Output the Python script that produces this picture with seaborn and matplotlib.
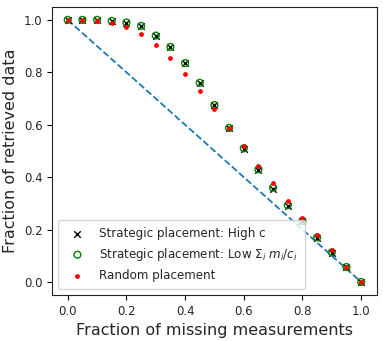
import numpy as np
import pandas as pd
import matplotlib
matplotlib.use("Agg")
import matplotlib.pyplot as plt
import seaborn as sns

# fraction of missing measurements
missing = [0.0, 0.05, 0.1, 0.15, 0.2, 0.25, 0.3, 0.35, 0.4, 0.45, 0.5,
           0.55, 0.6, 0.65, 0.7, 0.75, 0.8, 0.85, 0.9, 0.95, 1.0]

high_c = [1.0, 1.0, 1.0, 0.996, 0.99, 0.975, 0.94, 0.897, 0.835, 0.76, 0.674,
          0.588, 0.508, 0.427, 0.355, 0.29, 0.232, 0.168, 0.112, 0.056, 0.0]
low_mc = [1.0, 1.0, 1.0, 0.996, 0.99, 0.977, 0.94, 0.897, 0.835, 0.76, 0.675,
          0.588, 0.51, 0.43, 0.36, 0.293, 0.233, 0.17, 0.113, 0.057, 0.0]
random_pl = [1.0, 1.0, 0.997, 0.99, 0.972, 0.945, 0.903, 0.854, 0.793, 0.729, 0.659,
             0.588, 0.519, 0.444, 0.379, 0.31, 0.245, 0.18, 0.121, 0.058, 0.0]

diag = pd.DataFrame({"x": [0.0, 1.0], "y": [1.0, 0.0]})

sns.set_style("ticks")
plt.rcParams['font.family'] = ['DejaVu Sans']

fig = plt.figure(figsize=(3.83, 3.41), dpi=100)
ax = fig.add_axes([0.1366, 0.1349, 0.8469, 0.8437])

sns.lineplot(ax=ax, data=diag, x="x", y="y", linestyle="--", color="#1f77b4",
             linewidth=1.3, legend=False)
sns.scatterplot(ax=ax, x=missing, y=high_c, marker="x", color="black", s=22,
                linewidth=1, label="Strategic placement: High c", zorder=3)
sns.scatterplot(ax=ax, x=missing, y=low_mc, marker="o", fc="none", ec="green", s=24,
                linewidth=1, label=r"Strategic placement: Low $\Sigma_i$ $m_i/c_i$", zorder=4)
sns.scatterplot(ax=ax, x=missing, y=random_pl, marker="o", color="red", s=12,
                linewidth=0, label="Random placement", zorder=5)

ax.set_xlim(-0.0525, 1.053)
ax.set_ylim(-0.0496, 1.048)
ax.set_xticks([0.0, 0.2, 0.4, 0.6, 0.8, 1.0])
ax.set_yticks([0.0, 0.2, 0.4, 0.6, 0.8, 1.0])
ax.tick_params(labelsize=8.5, length=3.5, color="black")
for sp in ax.spines.values():
    sp.set_color("#222222")
ax.set_xlabel("Fraction of missing measurements", fontsize=11.5)
ax.set_ylabel("Fraction of retrieved data", fontsize=11.5)
ax.legend(loc="lower left", fontsize=8.6, handletextpad=0.8, borderpad=0.6)

fig.savefig("out.png", dpi=100)
